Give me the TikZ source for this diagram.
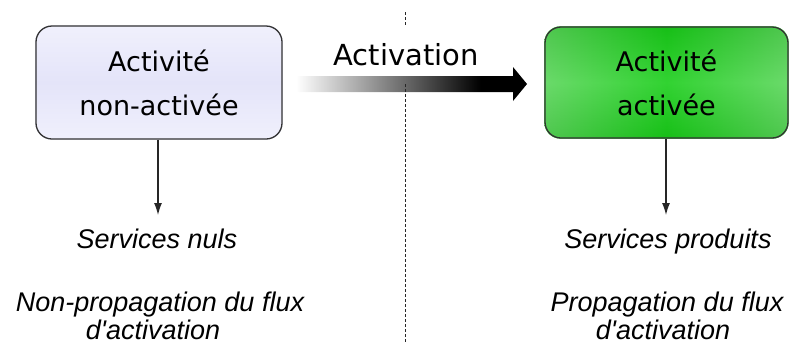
\documentclass[tikz,border=0pt]{standalone}
\usepackage{fontspec}
\setmainfont{DejaVu Sans}
\newfontfamily\itfont{Liberation Sans Italic}
\usetikzlibrary{arrows.meta,backgrounds}
\definecolor{boxborder}{HTML}{333333}
\definecolor{lavA}{HTML}{F0F0FC}
\definecolor{lavB}{HTML}{E4E4F9}
\definecolor{grA}{HTML}{3CBE3C}
\definecolor{grB}{HTML}{84F284}
\definecolor{grC}{HTML}{00C000}
\definecolor{grD}{HTML}{5CCC5C}
\pgfdeclarehorizontalshading{actarrow}{100bp}{color(0bp)=(white); color(25bp)=(white); color(65bp)=(black); color(100bp)=(black)}
\tikzset{
  actbox/.style={draw=boxborder, line width=1.3bp, rounded corners=16bp, align=center,
    font=\fontsize{27bp}{44bp}\selectfont, inner sep=0pt},
  boxshade/.style={rounded corners=16bp},
  outtext/.style={font=\itfont\fontsize{27bp}{31bp}\selectfont, anchor=base, inner sep=0pt},
  downarrow/.style={draw=black!85, line width=1.2bp, -{Latex[length=12bp,width=8bp]}},
  divider/.style={draw=black!85, line width=1bp, dash pattern=on 3bp off 2bp},
}
\begin{document}
\begin{tikzpicture}[x=1bp, y=-1bp]
\useasboundingbox (0,0) rectangle (790,344);
% boxes
\node[actbox, minimum width=246bp, minimum height=113bp] (off) at (159,82.5) {Activité\\non-activée};
\node[actbox, minimum width=243bp, minimum height=111bp] (on) at (666.5,82.5) {Activité\\activée};
\begin{scope}[on background layer]
  \shade[boxshade, top color=lavA, bottom color=lavA, middle color=lavB]
    (off.south west) rectangle (off.north east);
  \shade[boxshade, top color=grA, bottom color=grA, middle color=grB]
    (on.south west) rectangle (on.north east);
  \shade[boxshade, left color=grD, right color=grD, middle color=grC, fill opacity=0.62]
    (on.south west) rectangle (on.north east);
\end{scope}
% activation arrow
\coordinate (arrtail) at (296,84);
\coordinate (arrtip) at (527,84);
\shade[shading=actarrow] (arrtail) ++(0,-8) -- (513,76) -- (513,67) -- (arrtip) -- (513,101) -- (513,92) -- (296,92) -- cycle;
\node[font=\fontsize{29bp}{35bp}\selectfont, anchor=base, inner sep=0pt] (act) at (406,65) {Activation};
% divider
\coordinate (divA) at (405,12);
\coordinate (divB) at (405,26);
\coordinate (divC) at (405,84);
\coordinate (divD) at (405,344);
\draw[divider] (divA) -- (divB);
\draw[divider] (divC) -- (divD);
% down arrows
\coordinate (offend) at (158,215);
\coordinate (onend) at (666,215);
\draw[downarrow] (off.south -| offend) -- (offend);
\draw[downarrow] (on.south -| onend) -- (onend);
% outcome texts
\node[outtext] (offsvc) at (157,248) {Services nuls};
\node[outtext] (offprop1) at (160,311) {Non-propagation du flux};
\node[outtext] (offprop2) at (153,339) {d'activation};
\node[outtext] (onsvc) at (668,248) {Services produits};
\node[outtext] (onprop1) at (667,311) {Propagation du flux};
\node[outtext] (onprop2) at (663,339) {d'activation};
\end{tikzpicture}
\end{document}
